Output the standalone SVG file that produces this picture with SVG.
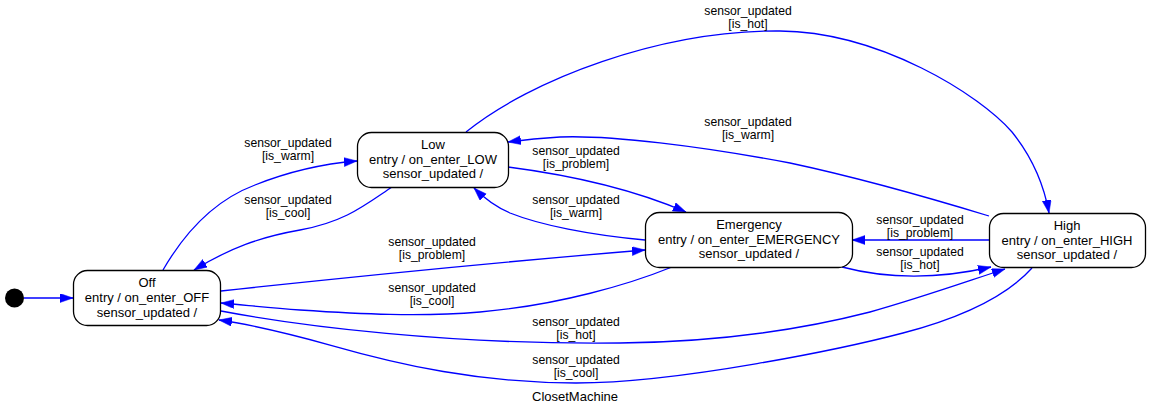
<svg xmlns="http://www.w3.org/2000/svg" width="1149" height="415" viewBox="0 0 1149 415">
<style>
.node rect{fill:#fff;stroke:#000;stroke-width:1.3}
.nt{font-family:"Liberation Sans",Arial,sans-serif;font-size:13px;fill:#000;text-anchor:middle}
.el{font-family:"Liberation Sans",Arial,sans-serif;font-size:12.2px;fill:#000;text-anchor:middle}
.edge{fill:none;stroke:#0000ff;stroke-width:1.3;marker-end:url(#arr)}
</style>
<defs>
<marker id="arr" markerUnits="userSpaceOnUse" markerWidth="14" markerHeight="10" refX="13" refY="4.5" orient="auto">
<path d="M0,0 L13,4.5 L0,9 z" fill="#0000ff" stroke="#0000ff" stroke-width="0.5"/>
</marker>
</defs>
<rect width="1149" height="415" fill="#fff"/>
<g id="connectors">
<path class="edge" d="M24,298 L73,298"/>
<path class="edge" d="M163,270 C185,232 215,200 255,185 C290,171 320,164 357,161"/>
<path class="edge" d="M392,187 C365,205 345,222 300,230 C260,237 230,248 194,270"/>
<path class="edge" d="M508,167 C570,175 630,188 686,212"/>
<path class="edge" d="M645,240 C590,235 540,225 510,213 C496,207 485,199 474,188"/>
<path class="edge" d="M466,132 C530,80 660,30 780,31 C880,32 980,95 1012,132 C1032,157 1044,185 1049,213"/>
<path class="edge" d="M989,216 C930,198 860,178 790,163 C700,146 610,135 560,137 C540,138 522,140 508,142"/>
<path class="edge" d="M989,240 L852,240"/>
<path class="edge" d="M842,267 C880,277 930,281 991,267"/>
<path class="edge" d="M221,291 C350,277 500,262 645,250"/>
<path class="edge" d="M672,267 C630,284 560,305 480,312 C420,317 360,314 300,310 C270,308 245,305 221,303"/>
<path class="edge" d="M221,311 C300,326 450,345 620,343 C720,342 800,330 870,312 C920,298 965,282 1005,269"/>
<path class="edge" d="M1032,268 C1005,298 960,318 903,333 C846,348 680,383 576,383 C480,383 400,365 330,345 C290,334 255,325 219,320"/>
<text class="el" x="288" y="146.5">sensor_updated</text><text class="el" x="288" y="160">[is_warm]</text>
<text class="el" x="288" y="203.5">sensor_updated</text><text class="el" x="288" y="217">[is_cool]</text>
<text class="el" x="576" y="154.5">sensor_updated</text><text class="el" x="576" y="168">[is_problem]</text>
<text class="el" x="576" y="203.5">sensor_updated</text><text class="el" x="576" y="217">[is_warm]</text>
<text class="el" x="748" y="14.5">sensor_updated</text><text class="el" x="748" y="28">[is_hot]</text>
<text class="el" x="748" y="125.5">sensor_updated</text><text class="el" x="748" y="139">[is_warm]</text>
<text class="el" x="920" y="223.5">sensor_updated</text><text class="el" x="920" y="237">[is_problem]</text>
<text class="el" x="920" y="255.5">sensor_updated</text><text class="el" x="920" y="269">[is_hot]</text>
<text class="el" x="432" y="245.5">sensor_updated</text><text class="el" x="432" y="259">[is_problem]</text>
<text class="el" x="432" y="291.5">sensor_updated</text><text class="el" x="432" y="305">[is_cool]</text>
<text class="el" x="576" y="325.5">sensor_updated</text><text class="el" x="576" y="339">[is_hot]</text>
<text class="el" x="576" y="363.5">sensor_updated</text><text class="el" x="576" y="377">[is_cool]</text>
</g>
<g id="start"><circle cx="14.5" cy="298" r="9.5" fill="#000"/></g>
<g id="off" class="node">
<rect x="73.5" y="270.5" width="147" height="55" rx="14"/>
<text class="nt" x="147" y="287">Off</text>
<text class="nt" x="147" y="302">entry / on_enter_OFF</text>
<text class="nt" x="147" y="316.5">sensor_updated /</text>
</g>
<g id="low" class="node">
<rect x="357.5" y="132.5" width="151" height="55" rx="14"/>
<text class="nt" x="433" y="149">Low</text>
<text class="nt" x="433" y="163.5">entry / on_enter_LOW</text>
<text class="nt" x="433" y="178">sensor_updated /</text>
</g>
<g id="emergency" class="node">
<rect x="645.5" y="212.5" width="207" height="55" rx="14"/>
<text class="nt" x="749" y="229">Emergency</text>
<text class="nt" x="749" y="243.5">entry / on_enter_EMERGENCY</text>
<text class="nt" x="749" y="258">sensor_updated /</text>
</g>
<g id="high" class="node">
<rect x="989.5" y="213.5" width="156" height="54" rx="14"/>
<text class="nt" x="1067" y="229.5">High</text>
<text class="nt" x="1067" y="244.5">entry / on_enter_HIGH</text>
<text class="nt" x="1067" y="259">sensor_updated /</text>
</g>
<text class="nt" x="575" y="401">ClosetMachine</text>
</svg>
